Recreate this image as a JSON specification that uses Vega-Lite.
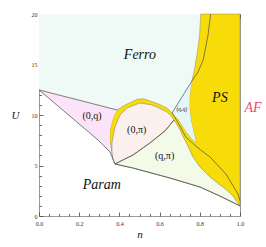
{
 "$schema": "https://vega.github.io/schema/vega-lite/v6.json",
 "width": 201, "height": 202,
 "autosize": {"type": "none"},
 "padding": {"left": 39, "top": 14, "right": 26, "bottom": 31},
 "background": "white",
 "config": {
  "view": {"stroke": "#9a9a9a", "strokeWidth": 1},
  "axis": {"domain": false, "grid": false, "labelFont": "Liberation Serif", "labelFontSize": 6, "labelColor": "#333", "tickColor": "#444", "tickWidth": 0.8, "titleFont": "Liberation Serif", "titleFontStyle": "italic", "titleFontWeight": "normal", "titleFontSize": 11, "titleColor": "#111", "zindex": 1, "labelOverlap": false, "labelFlush": false}
 },
 "datasets": {
  "ferro": [
   {"i":0,"n":0,"U":12.48},{"i":1,"n":0,"U":20},{"i":2,"n":1,"U":20},{"i":3,"n":1,"U":1.0},
   {"i":4,"n":0.9,"U":1.98},{"i":5,"n":0.801,"U":2.87},{"i":6,"n":0.652,"U":3.76},{"i":7,"n":0.468,"U":4.75},
   {"i":8,"n":0.378,"U":5.15},{"i":9,"n":0.368,"U":5.64},{"i":10,"n":0.353,"U":6.34},{"i":11,"n":0.294,"U":7.52},{"i":12,"n":0,"U":12.48}
  ],
  "yellow": [
   {"i":0,"n":0.805,"U":20},{"i":1,"n":1,"U":20},{"i":2,"n":1,"U":1.0},{"i":3,"n":0.9,"U":1.98},
   {"i":4,"n":0.801,"U":2.87},{"i":5,"n":0.652,"U":3.76},{"i":6,"n":0.468,"U":4.75},{"i":7,"n":0.378,"U":5.15},
   {"i":8,"n":0.368,"U":5.64},{"i":9,"n":0.362,"U":6.34},{"i":10,"n":0.357,"U":7.0},{"i":11,"n":0.353,"U":7.52},
   {"i":12,"n":0.353,"U":8.51},{"i":13,"n":0.368,"U":9.7},{"i":14,"n":0.388,"U":10.5},{"i":15,"n":0.428,"U":10.99},
   {"i":16,"n":0.488,"U":11.55},{"i":17,"n":0.52,"U":11.6},{"i":18,"n":0.552,"U":11.4},{"i":19,"n":0.6,"U":11.05},
   {"i":20,"n":0.637,"U":10.69},{"i":21,"n":0.662,"U":10.2},{"i":22,"n":0.692,"U":9.6},{"i":23,"n":0.731,"U":8.42},
   {"i":24,"n":0.761,"U":7.62},{"i":25,"n":0.781,"U":7.33},{"i":26,"n":0.769,"U":8.32},{"i":27,"n":0.756,"U":9.5},
   {"i":28,"n":0.749,"U":10.69},{"i":29,"n":0.749,"U":11.78},{"i":30,"n":0.756,"U":12.97},{"i":31,"n":0.771,"U":14.26},
   {"i":32,"n":0.786,"U":15.94},{"i":33,"n":0.799,"U":17.92},{"i":34,"n":0.805,"U":20}
  ],
  "qq": [
   {"i":0,"n":0.765,"U":13.5},{"i":1,"n":0.662,"U":10.2},{"i":2,"n":0.692,"U":9.6},{"i":3,"n":0.731,"U":8.42},
   {"i":4,"n":0.761,"U":7.62},{"i":5,"n":0.781,"U":7.33},{"i":6,"n":0.769,"U":8.32},{"i":7,"n":0.756,"U":9.5},
   {"i":8,"n":0.749,"U":10.69},{"i":9,"n":0.749,"U":11.78},{"i":10,"n":0.756,"U":12.97},{"i":11,"n":0.765,"U":13.5}
  ],
  "zpi": [
   {"i":0,"n":0.378,"U":5.15},{"i":1,"n":0.368,"U":5.64},{"i":2,"n":0.363,"U":6.34},{"i":3,"n":0.363,"U":7.23},
   {"i":4,"n":0.378,"U":8.81},{"i":5,"n":0.403,"U":10.0},{"i":6,"n":0.438,"U":10.69},{"i":7,"n":0.502,"U":11.19},
   {"i":8,"n":0.56,"U":11.0},{"i":9,"n":0.587,"U":10.79},{"i":10,"n":0.637,"U":10.3},{"i":11,"n":0.66,"U":9.85},
   {"i":12,"n":0.672,"U":9.5},{"i":13,"n":0.627,"U":8.42},{"i":14,"n":0.552,"U":7.23},{"i":15,"n":0.468,"U":6.04},{"i":16,"n":0.378,"U":5.15}
  ],
  "qpi": [
   {"i":0,"n":0.378,"U":5.15},{"i":1,"n":0.468,"U":6.04},{"i":2,"n":0.552,"U":7.23},{"i":3,"n":0.627,"U":8.42},
   {"i":4,"n":0.672,"U":9.5},{"i":5,"n":0.697,"U":8.71},{"i":6,"n":0.716,"U":7.92},{"i":7,"n":0.741,"U":6.93},
   {"i":8,"n":0.766,"U":5.84},{"i":9,"n":0.801,"U":4.85},{"i":10,"n":0.851,"U":3.86},{"i":11,"n":0.9,"U":3.07},
   {"i":12,"n":0.935,"U":2.57},{"i":13,"n":0.965,"U":1.98},{"i":14,"n":1,"U":1.0},{"i":15,"n":0.9,"U":1.98},
   {"i":16,"n":0.801,"U":2.87},{"i":17,"n":0.652,"U":3.76},{"i":18,"n":0.468,"U":4.75},{"i":19,"n":0.378,"U":5.15}
  ],
  "zq": [
   {"i":0,"n":0,"U":12.48},{"i":1,"n":0.388,"U":10.5},{"i":2,"n":0.368,"U":9.7},{"i":3,"n":0.353,"U":8.51},
   {"i":4,"n":0.353,"U":7.52},{"i":5,"n":0.353,"U":6.34},{"i":6,"n":0.294,"U":7.52},{"i":7,"n":0,"U":12.48}
  ],
  "edges": [
   {"id":"a","i":0,"n":0,"U":12.48},{"id":"a","i":1,"n":0.388,"U":10.5},
   {"id":"b","i":0,"n":0,"U":12.48},{"id":"b","i":1,"n":0.294,"U":7.52},{"id":"b","i":2,"n":0.353,"U":6.34},{"id":"b","i":3,"n":0.368,"U":5.64},{"id":"b","i":4,"n":0.378,"U":5.15},{"id":"b","i":5,"n":0.468,"U":4.75},{"id":"b","i":6,"n":0.652,"U":3.76},{"id":"b","i":7,"n":0.801,"U":2.87},{"id":"b","i":8,"n":0.9,"U":1.98},{"id":"b","i":9,"n":1,"U":1.0},
   {"id":"c","i":0,"n":0.378,"U":5.15},{"id":"c","i":1,"n":0.468,"U":6.04},{"id":"c","i":2,"n":0.552,"U":7.23},{"id":"c","i":3,"n":0.627,"U":8.42},{"id":"c","i":4,"n":0.672,"U":9.5},
   {"id":"d","i":0,"n":0.854,"U":20},{"id":"d","i":1,"n":0.841,"U":17.92},{"id":"d","i":2,"n":0.817,"U":15.45},{"id":"d","i":3,"n":0.791,"U":14.26},{"id":"d","i":4,"n":0.765,"U":13.5},{"id":"d","i":5,"n":0.662,"U":10.2},
   {"id":"e","i":0,"n":0.662,"U":10.2},{"id":"e","i":1,"n":0.687,"U":9.41},{"id":"e","i":2,"n":0.731,"U":7.82},{"id":"e","i":3,"n":0.791,"U":6.73},{"id":"e","i":4,"n":0.851,"U":5.84},{"id":"e","i":5,"n":0.93,"U":4.16},{"id":"e","i":6,"n":0.99,"U":2.18},{"id":"e","i":7,"n":1,"U":1.49}
  ],
  "big": [
   {"label":"Ferro","n":0.502,"U":15.94},{"label":"PS","n":0.9,"U":11.68},{"label":"Param","n":0.312,"U":3.07}
  ],
  "small": [
   {"label":"(0,q)","n":0.264,"U":9.9},{"label":"(0,π)","n":0.486,"U":8.51},{"label":"(q,π)","n":0.625,"U":5.91}
  ],
  "tiny": [{"label":"(q,q)","n":0.71,"U":10.56}],
  "af": [{"label":"AF","n":1.065,"U":10.69}]
 },
 "resolve": {"axis": {"x": "independent", "y": "independent"}},
 "layer": [
  {"data": {"name": "ferro"}, "mark": {"type": "line", "filled": true, "fill": "#eff9f6", "stroke": null},
   "encoding": {
    "x": {"field": "n", "type": "quantitative", "scale": {"domain": [0, 1], "nice": false},
      "axis": {"orient": "bottom", "title": "n", "titleBaseline": "middle", "titleY": 18,
       "values": [0,0.05,0.1,0.15,0.2,0.25,0.3,0.35,0.4,0.45,0.5,0.55,0.6,0.65,0.7,0.75,0.8,0.85,0.9,0.95,1],
       "labelExpr": "abs(datum.value*5 - round(datum.value*5)) < 0.001 ? format(datum.value, '.1f') : ''",
       "tickSize": {"condition": {"test": "abs(datum.value*5 - round(datum.value*5)) < 0.001", "value": -4}, "value": -2.5},
       "labelBaseline": "top", "labelPadding": 8}},
    "y": {"field": "U", "type": "quantitative", "scale": {"domain": [0, 20], "nice": false},
      "axis": {"orient": "left", "title": "U", "titleAngle": 0, "titleX": -24, "titleY": 101, "titleAlign": "center", "titleBaseline": "middle",
       "values": [0,1,2,3,4,5,6,7,8,9,10,11,12,13,14,15,16,17,18,19,20],
       "labelExpr": "datum.value % 5 == 0 ? format(datum.value, 'd') : ''",
       "tickSize": {"condition": {"test": "datum.value % 5 == 0", "value": -4}, "value": -2.5},
       "labelPadding": 6}},
    "order": {"field": "i", "type": "quantitative"}}},
  {"data": {"name": "yellow"}, "mark": {"type": "line", "filled": true, "fill": "#f8dc0a", "stroke": "#8f8a50", "strokeWidth": 0.5},
   "encoding": {"x": {"field": "n", "type": "quantitative", "axis": null}, "y": {"field": "U", "type": "quantitative", "axis": null}, "order": {"field": "i", "type": "quantitative"}}},
  {"data": {"name": "qq"}, "mark": {"type": "line", "filled": true, "fill": "#e3f7fa", "stroke": null},
   "encoding": {"x": {"field": "n", "type": "quantitative", "axis": null}, "y": {"field": "U", "type": "quantitative", "axis": null}, "order": {"field": "i", "type": "quantitative"}}},
  {"data": {"name": "zpi"}, "mark": {"type": "line", "filled": true, "fill": "#fcf0ef", "stroke": "#777", "strokeWidth": 0.5},
   "encoding": {"x": {"field": "n", "type": "quantitative", "axis": null}, "y": {"field": "U", "type": "quantitative", "axis": null}, "order": {"field": "i", "type": "quantitative"}}},
  {"data": {"name": "qpi"}, "mark": {"type": "line", "filled": true, "fill": "#f4fae8", "stroke": "#777", "strokeWidth": 0.5},
   "encoding": {"x": {"field": "n", "type": "quantitative", "axis": null}, "y": {"field": "U", "type": "quantitative", "axis": null}, "order": {"field": "i", "type": "quantitative"}}},
  {"data": {"name": "zq"}, "mark": {"type": "line", "filled": true, "fill": "#fbe4f9", "stroke": null},
   "encoding": {"x": {"field": "n", "type": "quantitative", "axis": null}, "y": {"field": "U", "type": "quantitative", "axis": null}, "order": {"field": "i", "type": "quantitative"}}},
  {"data": {"name": "edges"}, "mark": {"type": "line", "color": "#4a4a4a", "strokeWidth": 0.7},
   "encoding": {"x": {"field": "n", "type": "quantitative", "axis": null}, "y": {"field": "U", "type": "quantitative", "axis": null}, "detail": {"field": "id"}, "order": {"field": "i", "type": "quantitative"}}},
  {"mark": {"type": "rule", "color": "#ee4a78", "strokeWidth": 2.5},
   "encoding": {"x": {"datum": 1, "type": "quantitative",
     "axis": {"orient": "top", "title": null, "labels": false,
      "values": [0,0.05,0.1,0.15,0.2,0.25,0.3,0.35,0.4,0.45,0.5,0.55,0.6,0.65,0.7,0.75,0.8,0.85,0.9,0.95,1],
      "tickSize": {"condition": {"test": "abs(datum.value*5 - round(datum.value*5)) < 0.001", "value": -4}, "value": -2.5}}}}},
  {"data": {"name": "big"}, "mark": {"type": "text", "font": "Liberation Serif", "fontStyle": "italic", "fontSize": 14, "color": "#111", "baseline": "middle"},
   "encoding": {"x": {"field": "n", "type": "quantitative", "axis": null}, "y": {"field": "U", "type": "quantitative", "axis": null}, "text": {"field": "label"}}},
  {"data": {"name": "small"}, "mark": {"type": "text", "font": "Liberation Serif", "fontSize": 10, "color": "#111", "baseline": "middle"},
   "encoding": {"x": {"field": "n", "type": "quantitative", "axis": null}, "y": {"field": "U", "type": "quantitative", "axis": null}, "text": {"field": "label"}}},
  {"data": {"name": "tiny"}, "mark": {"type": "text", "font": "Liberation Serif", "fontSize": 5.5, "color": "#222", "baseline": "middle"},
   "encoding": {"x": {"field": "n", "type": "quantitative", "axis": null}, "y": {"field": "U", "type": "quantitative", "axis": null}, "text": {"field": "label"}}},
  {"data": {"name": "af"}, "mark": {"type": "text", "font": "Liberation Serif", "fontStyle": "italic", "fontSize": 14, "color": "#ee4a78", "baseline": "middle", "clip": false},
   "encoding": {"x": {"field": "n", "type": "quantitative", "axis": null}, "y": {"field": "U", "type": "quantitative", "axis": null}, "text": {"field": "label"}}}
 ]
}
